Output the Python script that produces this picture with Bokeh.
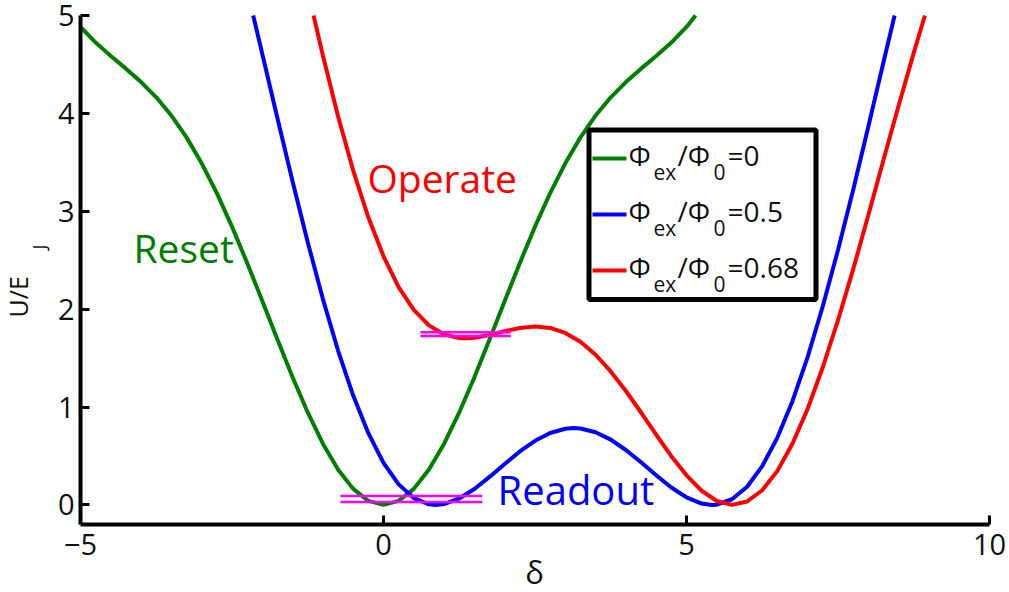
from math import pi

from bokeh.core.properties import value
from bokeh.embed import file_html
from bokeh.models import FixedTicker, Range1d
from bokeh.plotting import figure
from bokeh.resources import INLINE

# Phase difference delta and normalised potential U/E_J for three bias fluxes
delta_reset = [-5.0, -4.75, -4.5, -4.25, -4.0, -3.75, -3.5, -3.25, -3.0, -2.75,
               -2.5, -2.25, -2.0, -1.75, -1.5, -1.25, -1.0, -0.75, -0.5, -0.25,
               0.0, 0.25, 0.5, 0.75, 1.0, 1.25, 1.5, 1.75, 2.0, 2.25, 2.5,
               2.75, 3.0, 3.25, 3.5, 3.75, 4.0, 4.25, 4.5, 4.75, 5.0, 5.15]
u_reset = [4.883, 4.723, 4.586, 4.457, 4.320, 4.164, 3.978, 3.755, 3.490, 3.185,
           2.843, 2.472, 2.083, 1.689, 1.304, 0.945, 0.626, 0.362, 0.164, 0.042,
           0.000, 0.042, 0.164, 0.362, 0.626, 0.945, 1.304, 1.689, 2.083, 2.472,
           2.843, 3.185, 3.490, 3.755, 3.978, 4.164, 4.320, 4.457, 4.586, 4.723,
           4.883, 5.000]

delta_readout = [-2.15, -2.0, -1.75, -1.5, -1.25, -1.0, -0.75, -0.5, -0.25, 0.0,
                 0.25, 0.5, 0.75, 0.86, 1.0, 1.25, 1.5, 1.75, 2.0, 2.25, 2.5,
                 2.75, 3.0, 3.14, 3.25, 3.5, 3.75, 4.0, 4.25, 4.5, 4.75, 5.0,
                 5.25, 5.42, 5.5, 5.75, 6.0, 6.25, 6.5, 6.75, 7.0, 7.25, 7.5,
                 7.75, 8.0, 8.25, 8.434]
u_readout = [5.000, 4.607, 3.951, 3.305, 2.684, 2.103, 1.577, 1.117, 0.733, 0.430,
             0.210, 0.070, 0.006, 0.000, 0.009, 0.066, 0.163, 0.286, 0.418, 0.546,
             0.655, 0.735, 0.778, 0.785, 0.781, 0.743, 0.667, 0.561, 0.436, 0.303,
             0.178, 0.077, 0.014, 0.000, 0.003, 0.058, 0.186, 0.396, 0.688, 1.062,
             1.512, 2.032, 2.604, 3.217, 3.864, 4.523, 5.000]

delta_operate = [-1.154, -1.0, -0.75, -0.5, -0.25, 0.0, 0.25, 0.5, 0.75, 1.0,
                 1.25, 1.35, 1.5, 1.75, 2.0, 2.25, 2.5, 2.75, 3.0, 3.25, 3.5,
                 3.75, 4.0, 4.25, 4.5, 4.75, 5.0, 5.25, 5.5, 5.75, 6.0, 6.25,
                 6.5, 6.75, 7.0, 7.25, 7.5, 7.75, 8.0, 8.25, 8.5, 8.75, 8.934]
u_operate = [5.000, 4.591, 3.970, 3.416, 2.938, 2.540, 2.226, 1.992, 1.834, 1.742,
             1.705, 1.702, 1.708, 1.736, 1.775, 1.808, 1.822, 1.808, 1.757, 1.666,
             1.534, 1.364, 1.164, 0.944, 0.717, 0.498, 0.302, 0.145, 0.040, 0.000,
             0.035, 0.150, 0.348, 0.627, 0.983, 1.409, 1.887, 2.406, 2.959, 3.523,
             4.078, 4.618, 5.000]

# Energy levels (magenta double lines)
level_x0 = [0.61, 0.61, -0.71, -0.71]
level_x1 = [2.10, 2.10, 1.63, 1.63]
level_u = [1.765, 1.727, 0.090, 0.030]

series_names = ["0", "0.5", "0.68"]
series_colors = ["#008000", "#0000ff", "#ff0000"]

x_ticks = [-5, 0, 5, 10]
y_ticks = [0, 1, 2, 3, 4, 5]

FONT = "Open Sans"
TEXT = "#111111"
CAP_MID = 0.39  # baseline to vertical text centre, in em

# axes box in page pixels and its data limits
W, H = 1009, 592
X0, X1, Y0, Y1 = -5.0, 10.0, -0.2, 5.0
LEFT, TOP, FW, FH = 80, 15, 909, 509
SX = FW / (X1 - X0)
SY = FH / (Y1 - Y0)


def dx(px):
    return X0 + (px - LEFT) / SX


def dy(py):
    return Y1 - (py - TOP) / SY


p = figure(width=W, height=H,
           x_range=Range1d(dx(0), dx(W)), y_range=Range1d(dy(H), dy(0)),
           output_backend="svg", toolbar_location=None,
           min_border_left=0, min_border_right=0,
           min_border_top=0, min_border_bottom=0)
p.outline_line_color = None
p.xgrid.visible = False
p.ygrid.visible = False
p.background_fill_color = "white"
p.border_fill_color = "white"

p.xaxis.fixed_location = Y0
p.yaxis.fixed_location = X0
p.xaxis.bounds = (X0, X1)
p.yaxis.bounds = (Y0, Y1)

for ax in (p.xaxis, p.yaxis):
    ax.axis_line_width = 4
    ax.axis_line_color = "black"
    ax.major_tick_line_width = 3
    ax.major_tick_line_color = "black"
    ax.major_tick_in = 9
    ax.major_tick_out = 0
    ax.minor_tick_line_color = None
    ax.major_label_text_font = FONT
    ax.major_label_text_font_size = "29px"
    ax.major_label_text_color = TEXT

p.xaxis.ticker = FixedTicker(ticks=x_ticks)
p.yaxis.ticker = FixedTicker(ticks=y_ticks)
p.xaxis.major_label_overrides = {-5: "\u22125"}
p.xaxis.major_label_standoff = 9
p.yaxis.major_label_standoff = 6

# potential curves
curves = [(delta_reset, u_reset), (delta_readout, u_readout), (delta_operate, u_operate)]
for (xs, ys), color in zip(curves, series_colors):
    p.line(xs, ys, line_color=color, line_width=4)

# energy levels
p.segment(x0=level_x0, x1=level_x1, y0=level_u, y1=level_u,
          line_color="#ff00ff", line_width=2.5)


def put_text(px, base, text, size, color=TEXT, align="left", vertical=False):
    """Place text by its baseline (page pixels); vertical text reads upwards."""
    shift = CAP_MID * size
    if vertical:
        x, y, angle = dx(base - shift), dy(px), pi / 2
    else:
        x, y, angle = dx(px), dy(base - shift), 0.0
    p.text(x=[x], y=[y], text=[text], angle=angle,
           text_color=color, text_font=value(FONT),
           text_font_size=value(f"{size}px"),
           text_align=align, text_baseline="middle")


# regime annotations
put_text(133, 262, "Reset", 39, "#008000")
put_text(367, 192, "Operate", 39, "#ff0000")
put_text(497, 505, "Readout", 40, "#0000ff")

# legend box
p.quad(left=dx(588.5), right=dx(815.5), top=dy(129.5), bottom=dy(299),
       fill_color="white", line_color="black", line_width=5)
row_base = [165, 221, 277]
p.segment(x0=[dx(592)] * 3, x1=[dx(626)] * 3,
          y0=[dy(b - 7) for b in row_base], y1=[dy(b - 7) for b in row_base],
          line_color=series_colors, line_width=4)
for name, base in zip(series_names, row_base):
    for text, px, size, drop in [("\u03a6", 628, 28, 0), ("ex", 653, 21, 15),
                                 ("/\u03a6", 677, 28, 0), ("0", 713, 21, 15),
                                 ("=" + name, 727, 28, 0)]:
        put_text(px, base + drop, text, size)

# axis titles
put_text(534, 584, "\u03b4", 31, align="center")
put_text(317, 27, "U/E", 25, vertical=True)
put_text(249, 46, "J", 18, vertical=True)

open("out.html", "w").write(file_html(p, INLINE))
